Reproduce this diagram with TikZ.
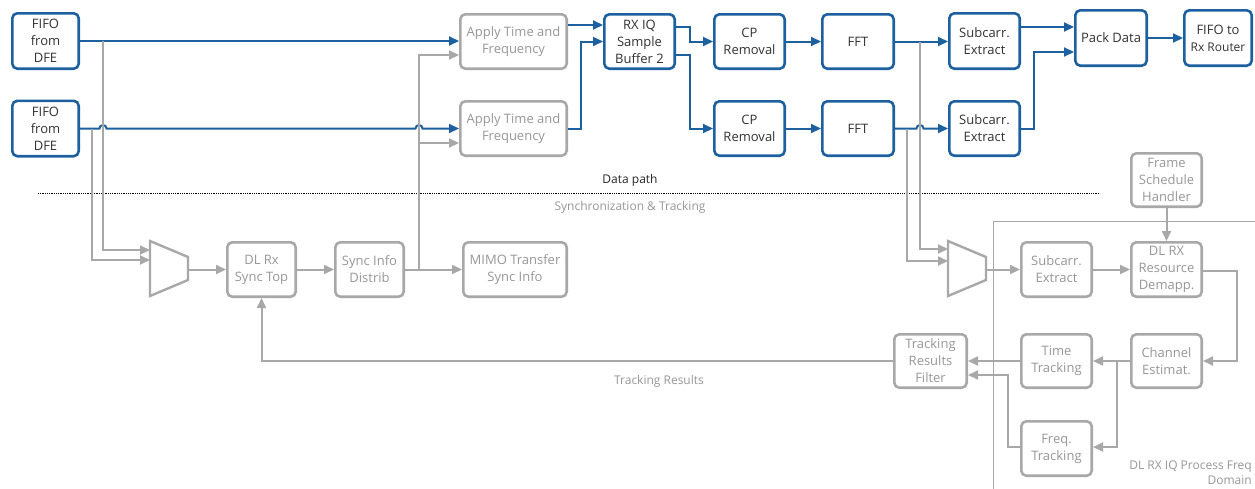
\documentclass[tikz,border=0pt]{standalone}
\usepackage{fontspec}
\setmainfont{Open Sans}
\usetikzlibrary{arrows.meta,calc}
\definecolor{dpblue}{RGB}{28,96,160}
\definecolor{stgray}{RGB}{168,168,168}
\definecolor{stext}{RGB}{150,150,150}
\definecolor{dtext}{RGB}{50,50,50}

\begin{document}
\begin{tikzpicture}[x=1pt,y=-1pt,
  font=\fontsize{13}{17}\selectfont,
  box/.style={rounded corners=5pt, line width=2.6pt, align=center, inner sep=1pt,
              minimum width=70.4pt, minimum height=54.4pt},
  dbox/.style={box, draw=dpblue, text=dtext},
  sbox/.style={box, draw=stgray, text=stext},
  dflow/.style={draw=dpblue, line width=2pt, -{Triangle[length=10pt,width=9pt]}},
  sflow/.style={draw=stgray, line width=2pt, -{Triangle[length=10pt,width=9pt]}},
  muxshape/.style={draw=stgray, line width=2.4pt, line join=miter},
  caption/.style={font=\fontsize{12}{15}\selectfont, text=stext},
]
\useasboundingbox (0,0) rectangle (1255,488);

% ---------------- data path ----------------
\node[dbox, minimum width=66.4pt, minimum height=55.4pt] (fifo1) at (45.5,41) {FIFO\\from\\DFE};
\node[dbox, minimum width=66.4pt, minimum height=55.4pt] (fifo2) at (45.5,128.5) {FIFO\\from\\DFE};
\node[sbox, minimum width=106.4pt] (apply1) at (513.5,41.5) {Apply Time and\\Frequency};
\node[sbox, minimum width=106.4pt] (apply2) at (513.5,128.5) {Apply Time and\\Frequency};
\node[dbox] (rxiq) at (639.5,41.5) {RX IQ\\Sample\\Buffer 2};
\node[dbox] (cp1) at (749.5,41.5) {CP\\Removal};
\node[dbox] (cp2) at (749.5,128.5) {CP\\Removal};
\node[dbox, minimum width=71.4pt] (fft1) at (858,41.5) {FFT};
\node[dbox, minimum width=71.4pt] (fft2) at (858,128.5) {FFT};
\node[dbox, minimum height=55.4pt] (sub1) at (984.5,41) {Subcarr.\\Extract};
\node[dbox] (sub2) at (984.5,128.5) {Subcarr.\\Extract};
\node[dbox, minimum width=71.4pt, minimum height=55.4pt] (pack) at (1111,38) {Pack Data};
\node[dbox, minimum width=67.4pt, minimum height=55.4pt] (router) at (1218,38)
  {FIFO to\\{\fontsize{12}{16}\selectfont Rx Router}};

% branch points and line hops
\coordinate (tapA) at (103,41);
\coordinate (tapB) at (92,128.5);
\coordinate (tapD) at (920,41.5);
\coordinate (tapE) at (907,128.5);
\coordinate (hopA) at (103,128.5);
\coordinate (hopB) at (419,128.5);
\coordinate (hopC) at (920,128.5);

\draw[dflow] (fifo1.east) -- (apply1.west |- fifo1.east);
\draw[dflow] (fifo2.east) -- ($(hopA)+(-3.5,0)$) arc[start angle=180,end angle=0,radius=3.5pt]
  -- ($(hopB)+(-3.5,0)$) arc[start angle=180,end angle=0,radius=3.5pt] -- (apply2.west);
\draw[dflow] ($(apply1.east)+(0,-16.5)$) -- ($(rxiq.west)+(0,-16.5)$);
\draw[dflow] (apply2.east) -- ++(13,0) |- (rxiq.west);
\draw[dflow] ($(rxiq.east)+(0,-14.5)$) -- ++(14,0) |- (cp1.west);
\draw[dflow] ($(rxiq.east)+(0,13.5)$) -- ++(14,0) |- (cp2.west);
\draw[dflow] (cp1) -- (fft1);
\draw[dflow] (cp2) -- (fft2);
\draw[dflow] (fft1) -- (sub1.west |- fft1);
\draw[dflow] (fft2.east) -- ($(hopC)+(-3.5,0)$) arc[start angle=180,end angle=0,radius=3.5pt] -- (sub2.west);
\draw[dflow] ($(sub1.east)+(0,-14)$) -- ($(pack.west)+(0,-11)$);
\draw[dflow] (sub2.east) -- ++(13,0) |- ($(pack.west)+(0,14)$);
\draw[dflow] (pack) -- (router);

% separator
\draw[densely dotted, line width=0.8pt] (38,193) -- (1100,193);
\node[font=\fontsize{12}{15}\selectfont, text=black!85] (dplabel) at (630,180) {Data path};
\node[caption] (stlabel) at (630,207) {Synchronization \& Tracking};

% ---------------- synchronization & tracking ----------------
\draw[muxshape] (150,241) -- (188,257) -- (188,280) -- (150,296) -- cycle;
\coordinate (m1a) at (150,250);
\coordinate (m1b) at (150,260);
\coordinate (m1out) at (188,269.5);
\draw[muxshape] (948,241) -- (986,257) -- (986,280) -- (948,296) -- cycle;
\coordinate (m2a) at (948,249);
\coordinate (m2b) at (948,261);
\coordinate (m2out) at (986,269.5);

\node[sbox, minimum width=68.4pt] (dlrx) at (261.5,269.5) {DL Rx\\Sync Top};
\node[sbox, minimum width=68.4pt] (sync) at (369.5,269.5) {Sync Info\\Distrib};
\node[sbox, minimum width=103.4pt] (mimo) at (515,269.5) {MIMO Transfer\\Sync Info};
\node[sbox, minimum height=53.4pt] (fsh) at (1166.5,180) {Frame\\Schedule\\Handler};
\node[sbox] (sub3) at (1056.5,269.5) {Subcarr.\\Extract};
\node[sbox] (demap) at (1166.5,269.5) {DL RX\\Resource\\Demapp.};
\node[sbox, minimum width=72.4pt, minimum height=53.4pt] (filter) at (930.5,361) {Tracking\\Results\\Filter};
\node[sbox, minimum height=53.4pt] (timet) at (1056.5,361) {Time\\Tracking};
\node[sbox, minimum height=53.4pt] (chan) at (1166.5,361) {Channel\\Estimat.};
\node[sbox] (freq) at (1056.5,448.5) {Freq.\\Tracking};

% frequency-domain block outline
\draw[stgray, line width=0.8pt] (1300,221) -- (993,221) -- (993,500);
\node[caption, align=right, anchor=south east, inner sep=1pt, font=\fontsize{12}{15.5}\selectfont] (fdlabel) at (1253,486)
  {DL RX IQ Process Freq\\Domain};

\coordinate (tapC) at (419,269.5);
\coordinate (tapF) at (1117,361);

\draw[sflow] (tapA) |- (m1a);
\draw[sflow] (tapB) |- (m1b);
\draw[sflow] (m1out) -- (dlrx.west);
\draw[sflow] (dlrx) -- (sync);
\draw[sflow] (sync) -- (mimo);
\draw[sflow] (tapC) |- ($(apply1.west)+(0,13.5)$);
\draw[sflow] (tapC |- 0,143) -- ($(apply2.west)+(0,14.5)$);
\draw[sflow] (tapD) |- (m2a);
\draw[sflow] (tapE) |- (m2b);
\draw[sflow] (m2out) -- (sub3.west);
\draw[sflow] (sub3) -- (demap);
\draw[sflow] (fsh) -- (demap);
\draw[sflow] ($(demap.east)+(0,1.5)$) -- ++(34,0) |- (chan.east);
\draw[sflow] (chan) -- (timet);
\draw[sflow] (tapF) |- ($(freq.east)+(0,-1.5)$);
\draw[sflow] (timet) -- (filter);
\draw[sflow] ($(freq.west)+(0,-1.5)$) -- ++(-12,0) |- ($(filter.east)+(0,14)$);
\draw[sflow] (filter.west) -| (dlrx.south);
\node[caption] (trlabel) at (659,381) {Tracking Results};
\end{tikzpicture}
\end{document}
